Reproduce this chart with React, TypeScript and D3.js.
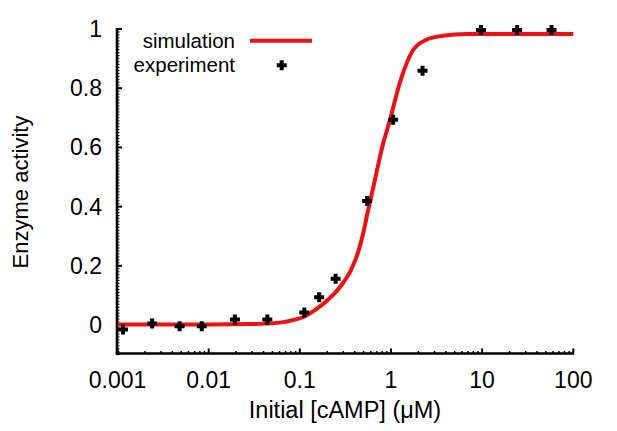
import React from 'react';
import * as d3 from 'd3';

const expConc = [0.00115, 0.0024, 0.0048, 0.0084, 0.0194, 0.044, 0.112, 0.163, 0.247, 0.548, 1.057, 2.22, 9.7, 24.2, 57.7];
const expActivity = [-0.015, 0.005, -0.004, -0.004, 0.019, 0.019, 0.042, 0.094, 0.156, 0.419, 0.693, 0.859, 0.997, 0.997, 0.997];

// simulation curve
const simConc = [0.001, 0.003, 0.01, 0.0284, 0.0605, 0.0883, 0.111, 0.1465, 0.2049, 0.287, 0.37, 0.437, 0.496, 0.554, 0.613, 0.666, 0.8, 0.975, 1.254, 1.75, 2.46, 3.7, 6.75, 20, 100];
const simActivity = [0.002, 0.002, 0.002, 0.003, 0.008, 0.018, 0.028, 0.05, 0.086, 0.135, 0.19, 0.247, 0.31, 0.38, 0.44, 0.49, 0.6, 0.693, 0.82, 0.929, 0.964, 0.977, 0.983, 0.983, 0.983];

const xTicks = [0.001, 0.01, 0.1, 1, 10, 100];
const xTickLabels = ['0.001', '0.01', '0.1', '1', '10', '100'];
const yTicks = [0, 0.2, 0.4, 0.6, 0.8, 1];
const yTickLabels = ['0', '0.2', '0.4', '0.6', '0.8', '1'];

const W = 617;
const H = 431;
const FONT = '"Liberation Sans", Arial, Helvetica, sans-serif';
const RED = '#ee1111';

const App = () => {
  const x = d3.scaleLog().domain([0.001, 100]).range([117.5, 573.3]);
  const y = d3.scaleLinear().domain([-0.1, 1]).range([354.6, 29]);
  const x0 = 117;
  const yb = 353.5;

  const line = d3
    .line<number>()
    .x((_, i) => x(simConc[i]))
    .y((d) => y(d))
    .curve(d3.curveMonotoneX);

  // log minor ticks
  const xMinor: number[] = [];
  for (let e = -3; e < 2; e++) {
    for (let m = 2; m < 10; m++) xMinor.push(m * Math.pow(10, e));
  }
  const yMinor = d3.range(-10, 101).map((k) => k / 100);

  const plus = 'M-5,0H5M0,-5V5';

  return (
    <div style={{ position: 'absolute', left: 0, top: 0 }}>
      <svg width={W} height={H} style={{ display: 'block', background: '#fff' }} fontFamily={FONT}>
        {/* minor ticks */}
        {yMinor.map((v, i) => (
          <line key={'ym' + i} x1={x0} x2={x0 + 2.5} y1={y(v)} y2={y(v)} stroke="#000" strokeWidth={1} />
        ))}
        {yTicks.map((v, i) => (
          <line key={'yM' + i} x1={x0} x2={x0 + 5} y1={y(v)} y2={y(v)} stroke="#000" strokeWidth={2} />
        ))}
        {xMinor.map((v, i) => (
          <line key={'xm' + i} x1={x(v)} x2={x(v)} y1={yb} y2={yb - 2.5} stroke="#000" strokeWidth={1.5} />
        ))}
        {xTicks.map((v, i) => (
          <line key={'xM' + i} x1={x(v)} x2={x(v)} y1={yb} y2={yb - 5} stroke="#000" strokeWidth={2} />
        ))}
        {/* axes */}
        <line x1={x0} x2={x0} y1={28} y2={yb + 1.2} stroke="#000" strokeWidth={2.6} />
        <line x1={x0 - 1.2} x2={574} y1={yb} y2={yb} stroke="#000" strokeWidth={2.6} />

        {/* tick labels */}
        {yTicks.map((v, i) => (
          <text key={'yl' + i} x={102} y={y(v) + 8} textAnchor="end" fontSize={23}>
            {yTickLabels[i]}
          </text>
        ))}
        {xTicks.map((v, i) => (
          <text key={'xl' + i} x={x(v)} y={388} textAnchor="middle" fontSize={23}>
            {xTickLabels[i]}
          </text>
        ))}

        {/* axis titles */}
        <text x={345} y={418} textAnchor="middle" fontSize={23.5}>
          Initial [cAMP] (μM)
        </text>
        <text transform="translate(28,192) rotate(-90)" textAnchor="middle" fontSize={22}>
          Enzyme activity
        </text>

        {/* simulation */}
        <path d={line(simActivity) || ''} fill="none" stroke={RED} strokeWidth={4} strokeLinejoin="round" />

        {/* experiment */}
        {expConc.map((c, i) => (
          <path key={'p' + i} d={plus} transform={`translate(${x(c)},${y(expActivity[i])})`} stroke="#000" strokeWidth={4} />
        ))}

        {/* legend */}
        <text x={235} y={48} textAnchor="end" fontSize={20.5}>
          simulation
        </text>
        <line x1={250} x2={312} y1={40.7} y2={40.7} stroke={RED} strokeWidth={4} />
        <text x={235} y={72} textAnchor="end" fontSize={20.5}>
          experiment
        </text>
        <path d={plus} transform="translate(281.7,65.3)" stroke="#000" strokeWidth={4} />
      </svg>
    </div>
  );
};

export default App;
